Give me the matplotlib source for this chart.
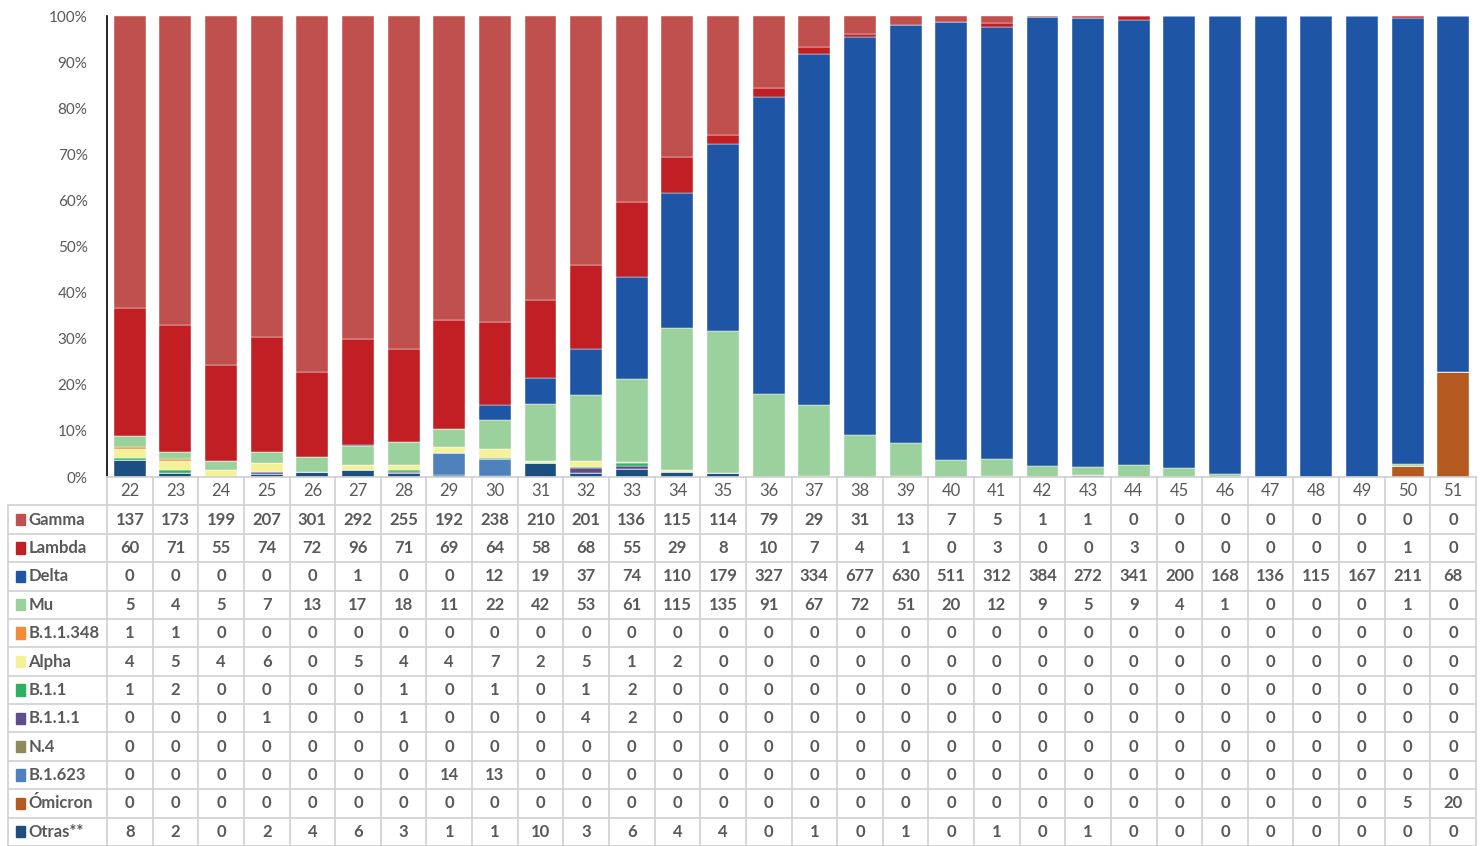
import matplotlib.pyplot as plt
import numpy as np
from matplotlib.patches import Rectangle

plt.rcParams['font.family'] = ['Lato', 'DejaVu Sans']

#%% data read from the table

weeks = [str(w) for w in range(22, 52)]

variants = ['Gamma', 'Lambda', 'Delta', 'Mu', 'B.1.1.348', 'Alpha', 'B.1.1',
            'B.1.1.1', 'N.4', 'B.1.623', 'Ómicron', 'Otras**']

gamma = [137, 173, 199, 207, 301, 292, 255, 192, 238, 210, 201, 136, 115, 114, 79,
         29, 31, 13, 7, 5, 1, 1, 0, 0, 0, 0, 0, 0, 0, 0]
lambda_ = [60, 71, 55, 74, 72, 96, 71, 69, 64, 58, 68, 55, 29, 8, 10,
           7, 4, 1, 0, 3, 0, 0, 3, 0, 0, 0, 0, 0, 1, 0]
delta = [0, 0, 0, 0, 0, 1, 0, 0, 12, 19, 37, 74, 110, 179, 327,
         334, 677, 630, 511, 312, 384, 272, 341, 200, 168, 136, 115, 167, 211, 68]
mu = [5, 4, 5, 7, 13, 17, 18, 11, 22, 42, 53, 61, 115, 135, 91,
      67, 72, 51, 20, 12, 9, 5, 9, 4, 1, 0, 0, 0, 1, 0]
b11348 = [1, 1, 0, 0, 0, 0, 0, 0, 0, 0, 0, 0, 0, 0, 0,
          0, 0, 0, 0, 0, 0, 0, 0, 0, 0, 0, 0, 0, 0, 0]
alpha = [4, 5, 4, 6, 0, 5, 4, 4, 7, 2, 5, 1, 2, 0, 0,
         0, 0, 0, 0, 0, 0, 0, 0, 0, 0, 0, 0, 0, 0, 0]
b11 = [1, 2, 0, 0, 0, 0, 1, 0, 1, 0, 1, 2, 0, 0, 0,
       0, 0, 0, 0, 0, 0, 0, 0, 0, 0, 0, 0, 0, 0, 0]
b111 = [0, 0, 0, 1, 0, 0, 1, 0, 0, 0, 4, 2, 0, 0, 0,
        0, 0, 0, 0, 0, 0, 0, 0, 0, 0, 0, 0, 0, 0, 0]
n4 = [0] * 30
b1623 = [0, 0, 0, 0, 0, 0, 0, 14, 13, 0, 0, 0, 0, 0, 0,
         0, 0, 0, 0, 0, 0, 0, 0, 0, 0, 0, 0, 0, 0, 0]
omicron = [0] * 28 + [5, 20]
otras = [8, 2, 0, 2, 4, 6, 3, 1, 1, 10, 3, 6, 4, 4, 0,
         1, 0, 1, 0, 1, 0, 1, 0, 0, 0, 0, 0, 0, 0, 0]

colors = ['#C0504D', '#C21F25', '#1F55A5', '#9BD19D', '#F58B3A', '#F4F199',
          '#2DB360', '#5E4C8C', '#8E8A5A', '#4F81BD', '#B45A20', '#1B4F80']

counts = np.array([gamma, lambda_, delta, mu, b11348, alpha, b11, b111,
                   n4, b1623, omicron, otras], dtype=float)
shares = counts / counts.sum(axis=0) * 100

#%% figure

W, H = 1483, 846
fig = plt.figure(figsize=(W / 100, H / 100), dpi=100)

x0, x1 = 107, 1476
ytop, ybot = 16, 477
ax = fig.add_axes([x0 / W, (H - ybot) / H, (x1 - x0) / W, (ybot - ytop) / H])

x = np.arange(len(weeks))
bottom = np.zeros(len(weeks))
# stacked from the last row of the table upwards
for i in range(len(variants) - 1, -1, -1):
    ax.bar(x, shares[i], 0.7, bottom=bottom, color=colors[i],
           edgecolor='white', linewidth=0.3)
    bottom += shares[i]

ax.set_xlim(-0.5, len(weeks) - 0.5)
ax.set_ylim(0, 100)
ax.set_yticks(range(0, 101, 10))
ax.set_yticklabels([f'{v}%' for v in range(0, 101, 10)], color='#595959', fontsize=11)
ax.tick_params(axis='y', length=0, pad=14)
ax.set_xticks([])
for s in ['top', 'right', 'bottom']:
    ax.spines[s].set_visible(False)
ax.spines['left'].set_color('black')
ax.spines['left'].set_linewidth(1.2)

#%% data table below

tab = fig.add_axes([x0 / W, 0, (x1 - x0) / W, (H - ybot) / H])
nrows = len(variants) + 1
tab.set_xlim(-0.5, len(weeks) - 0.5)
tab.set_ylim(nrows, 0)
tab.axis('off')

colw = (x1 - x0) / len(weeks)
left = -0.5 - (x0 - 8) / colw
grid = '#D0D0D0'

# horizontal lines
tab.plot([-0.5, len(weeks) - 0.5], [0, 0], color=grid, lw=1.2, clip_on=False)
for r in range(1, nrows + 1):
    tab.plot([left, len(weeks) - 0.5], [r, r], color=grid, lw=1.2, clip_on=False)
# vertical lines
for c in range(len(weeks) + 1):
    tab.plot([c - 0.5, c - 0.5], [0, nrows], color=grid, lw=1.2, clip_on=False)
tab.plot([left, left], [1, nrows], color=grid, lw=1.2, clip_on=False)

txt = '#595959'
for c, w in enumerate(weeks):
    tab.text(c, 0.5, w, ha='center', va='center', fontsize=12, color=txt)

for r, name in enumerate(variants):
    yy = r + 1.5
    tab.add_patch(Rectangle((left + 0.17, yy - 0.2), 0.2, 0.4, color=colors[r],
                            clip_on=False, transform=tab.transData))
    tab.text(left + 0.45, yy, name, ha='left', va='center', fontsize=12,
             color=txt, fontweight='bold')
    for c in range(len(weeks)):
        tab.text(c, yy, str(int(counts[r, c])), ha='center', va='center',
                 fontsize=12, color=txt, fontweight='bold')

fig.savefig('out.png', dpi=100)
